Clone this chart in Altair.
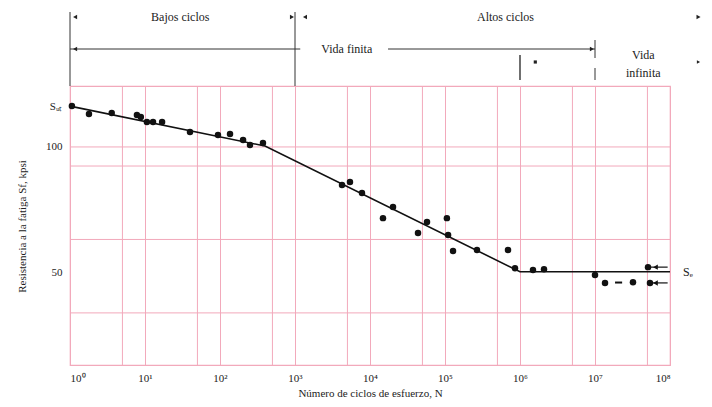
import altair as alt
import pandas as pd

PINK = "#f2a9bb"
FONT = "Liberation Serif"

# ---- data ----
N_pts = [1.06, 1.79, 3.6, 7.8, 8.8, 10.6, 12.8, 16.9, 39.8, 94, 136, 203, 251, 374,
         4236, 5410, 7820, 14900, 20270, 43650, 57540, 1.06e5, 1.10e5, 1.28e5, 2.67e5,
         6.92e5, 8.58e5, 1.49e6, 2.09e6, 1.0e7, 1.36e7, 3.21e7, 5.09e7, 5.41e7]
S_pts = [125.3, 120.0, 120.6, 119.3, 118.0, 114.8, 114.8, 114.8, 108.6, 106.8, 107.4, 103.9, 101.1, 102.2,
         81.0, 82.4, 77.5, 67.5, 71.8, 62.2, 66.1, 67.5, 61.5, 56.3, 56.6,
         56.6, 51.2, 50.7, 50.9, 49.3, 47.2, 47.4, 51.5, 47.2]

line_N = [1, 398, 1e6, 1e8]
line_S = [125.3, 100.5, 50.2, 50.2]

dash_N = [1.85e7]
dash_N2 = [2.3e7]
dash_S = [47.3]

runout_N = [5.3e7, 5.6e7]
runout_N2 = [9.3e7, 9.3e7]
runout_S = [51.5, 47.2]
runout_head_N = [6.4e7, 6.4e7]

decades = [1, 10, 100, 1e3, 1e4, 1e5, 1e6, 1e7, 1e8]
fives = [5, 50, 500, 5e3, 5e4, 5e5, 5e6, 5e7]
y_grid = [40, 60, 90, 100]
y_ticks = [125.3, 100, 50]
se_label_N = [1.4e8]
se_label_S = [50.2]

# annotations above the plot
row1_text = ["Bajos ciclos", "Altos ciclos"]
row1_N = [29.5, 6.4e5]
row1_left_heads = [1.17, 1359]
row1_right_heads = [912, 2.4e8]
row2_text = ["Vida finita"]
row2_N = [4900]
row2_seg_N = [1, 17400]
row2_seg_N2 = [1175, 1e7]
row2_left_heads = [1.17]
row2_right_heads = [9.1e6]
boundary_N = [1, 1000]
inf_text_N = [4.4e7]

x_enc = alt.X(
    "N:Q",
    scale=alt.Scale(type="log", domain=[1, 1e8]),
    axis=alt.Axis(
        values=decades,
        labelExpr="'10' + ['⁰','¹','²','³','⁴','⁵','⁶','⁷','⁸'][round(log(datum.value)/LN10)]",
        grid=True, gridColor=PINK, gridWidth=1, ticks=False, domain=False,
        labelFont=FONT, labelFontSize=11, labelColor="#222", labelPadding=7,
        title="Número de ciclos de esfuerzo, N", titleFont=FONT, titleFontSize=11,
        titleFontWeight="normal", titleColor="#222", titleY=22,
    ),
)
y_enc = alt.Y(
    "S:Q",
    scale=alt.Scale(type="log", domain=[30, 140]),
    axis=alt.Axis(
        values=y_ticks,
        labelExpr="datum.value > 110 ? 'Sᵤₜ' : format(datum.value, 'd')",
        grid=False, ticks=False, domain=False,
        labelFont=FONT, labelFontSize=11, labelColor="#222", labelPadding=8,
        title="Resistencia a la fatiga Sf, kpsi", titleFont=FONT, titleFontSize=11,
        titleFontWeight="normal", titleColor="#222", titleX=-48, titleY=140,
        titleBaseline="middle",
    ),
)

pts = pd.DataFrame({"N": N_pts, "S": S_pts})
line = pd.DataFrame({"N": line_N, "S": line_S})

layers = []
# grid
layers.append(alt.Chart(pd.DataFrame({"N": fives})).mark_rule(color=PINK, strokeWidth=1).encode(x=x_enc))
layers.append(alt.Chart(pd.DataFrame({"S": y_grid})).mark_rule(color=PINK, strokeWidth=1).encode(y=y_enc))
# S-N line
layers.append(alt.Chart(line).mark_line(color="#111", strokeWidth=1.6).encode(x=x_enc, y=y_enc))
# dashed part
layers.append(alt.Chart(pd.DataFrame({"N": dash_N, "N2": dash_N2, "S": dash_S}))
              .mark_rule(color="#111", strokeWidth=2).encode(x=x_enc, x2="N2:Q", y=y_enc))
# runouts
layers.append(alt.Chart(pd.DataFrame({"N": runout_N, "N2": runout_N2, "S": runout_S}))
              .mark_rule(color="#111", strokeWidth=1.2).encode(x=x_enc, x2="N2:Q", y=y_enc))
layers.append(alt.Chart(pd.DataFrame({"N": runout_head_N, "S": runout_S}))
              .mark_point(shape="triangle-left", filled=True, color="#111", size=30, opacity=1)
              .encode(x=x_enc, y=y_enc))
# points
layers.append(alt.Chart(pts).mark_circle(color="#111", size=42, opacity=1).encode(x=x_enc, y=y_enc))
# Se label
layers.append(alt.Chart(pd.DataFrame({"N": se_label_N, "S": se_label_S, "t": ["Sₑ"]}))
              .mark_text(font=FONT, fontSize=12, align="left", color="#222", dx=2)
              .encode(x=x_enc, y=y_enc, text="t:N"))

# ---- annotations above the plot ----
def txt(texts, Ns, ypx, size=12):
    return (alt.Chart(pd.DataFrame({"N": Ns, "t": texts}))
            .mark_text(font=FONT, fontSize=size, color="#222", align="center", baseline="middle")
            .encode(x=x_enc, y=alt.value(ypx), text="t:N"))

def heads(Ns, ypx, shape, size=22):
    return (alt.Chart(pd.DataFrame({"N": Ns}))
            .mark_point(shape=shape, filled=True, color="#222", size=size, opacity=1)
            .encode(x=x_enc, y=alt.value(ypx)))

def vline(Ns, y0, y1, width=1.0):
    return (alt.Chart(pd.DataFrame({"N": Ns}))
            .mark_rule(color="#333", strokeWidth=width)
            .encode(x=x_enc, y=alt.value(y0), y2=alt.value(y1)))

layers.append(vline(boundary_N, -74, 0))
layers.append(txt(row1_text, row1_N, -69))
layers.append(heads(row1_left_heads, -69, "triangle-left"))
layers.append(heads(row1_right_heads, -69, "triangle-right"))
layers.append(alt.Chart(pd.DataFrame({"N": row2_seg_N, "N2": row2_seg_N2}))
              .mark_rule(color="#333", strokeWidth=1)
              .encode(x=x_enc, x2="N2:Q", y=alt.value(-37)))
layers.append(txt(row2_text, row2_N, -37))
layers.append(heads(row2_left_heads, -37, "triangle-left"))
layers.append(heads(row2_right_heads, -37, "triangle-right"))
layers.append(vline([1e7], -46, -28))
layers.append(vline([1e7], -18, -6))
layers.append(vline([1e6], -31, -6, 1.4))
layers.append(heads([1.6e6], -24, "square", 10))
layers.append(heads([2.4e8, 3.0e8], -24, "triangle-right", 14))
layers.append(txt(["Vida"], inf_text_N, -31))
layers.append(txt(["infinita"], inf_text_N, -13))

chart = (
    alt.layer(*layers)
    .properties(
        width=600, height=279,
        autosize=alt.AutoSizeParams(type="none"),
        padding={"left": 62, "top": 78, "right": 34, "bottom": 34},
    )
    .configure_view(stroke=PINK, strokeWidth=1.2)
)

chart.save("out.html", embed_options={"renderer": "svg", "actions": False})
